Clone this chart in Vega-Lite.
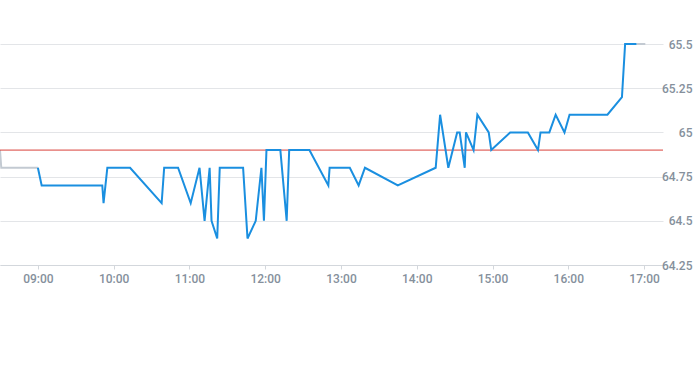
{
  "width": 663,
  "height": 221,
  "autosize": "none",
  "padding": {"left": 0, "top": 44, "right": 30, "bottom": 100},
  "config": {
    "view": {"stroke": null},
    "axis": {"labelFont": "Roboto", "labelColor": "#85909c", "labelFontSize": 12, "labelFontWeight": 500}
  },
  "data": {
    "values": [
      {"s": "pre", "t": "2024-01-02 08:30", "p": 64.9},
      {"s": "pre", "t": "2024-01-02 08:31", "p": 64.8},
      {"s": "pre", "t": "2024-01-02 09:00", "p": 64.8},
      {"s": "main", "t": "2024-01-02 09:00", "p": 64.8},
      {"s": "main", "t": "2024-01-02 09:03", "p": 64.7},
      {"s": "main", "t": "2024-01-02 09:51", "p": 64.7},
      {"s": "main", "t": "2024-01-02 09:52", "p": 64.6},
      {"s": "main", "t": "2024-01-02 09:55", "p": 64.8},
      {"s": "main", "t": "2024-01-02 10:13", "p": 64.8},
      {"s": "main", "t": "2024-01-02 10:38", "p": 64.6},
      {"s": "main", "t": "2024-01-02 10:40", "p": 64.8},
      {"s": "main", "t": "2024-01-02 10:51", "p": 64.8},
      {"s": "main", "t": "2024-01-02 11:01", "p": 64.6},
      {"s": "main", "t": "2024-01-02 11:08", "p": 64.8},
      {"s": "main", "t": "2024-01-02 11:12", "p": 64.5},
      {"s": "main", "t": "2024-01-02 11:16", "p": 64.8},
      {"s": "main", "t": "2024-01-02 11:17:30", "p": 64.5},
      {"s": "main", "t": "2024-01-02 11:22", "p": 64.4},
      {"s": "main", "t": "2024-01-02 11:24", "p": 64.8},
      {"s": "main", "t": "2024-01-02 11:42:30", "p": 64.8},
      {"s": "main", "t": "2024-01-02 11:46", "p": 64.4},
      {"s": "main", "t": "2024-01-02 11:52:30", "p": 64.5},
      {"s": "main", "t": "2024-01-02 11:57", "p": 64.8},
      {"s": "main", "t": "2024-01-02 11:59", "p": 64.5},
      {"s": "main", "t": "2024-01-02 12:01", "p": 64.9},
      {"s": "main", "t": "2024-01-02 12:12", "p": 64.9},
      {"s": "main", "t": "2024-01-02 12:17", "p": 64.5},
      {"s": "main", "t": "2024-01-02 12:19", "p": 64.9},
      {"s": "main", "t": "2024-01-02 12:35", "p": 64.9},
      {"s": "main", "t": "2024-01-02 12:50", "p": 64.7},
      {"s": "main", "t": "2024-01-02 12:51", "p": 64.8},
      {"s": "main", "t": "2024-01-02 13:07", "p": 64.8},
      {"s": "main", "t": "2024-01-02 13:14", "p": 64.7},
      {"s": "main", "t": "2024-01-02 13:19", "p": 64.8},
      {"s": "main", "t": "2024-01-02 13:45", "p": 64.7},
      {"s": "main", "t": "2024-01-02 14:15", "p": 64.8},
      {"s": "main", "t": "2024-01-02 14:18:30", "p": 65.1},
      {"s": "main", "t": "2024-01-02 14:25", "p": 64.8},
      {"s": "main", "t": "2024-01-02 14:32", "p": 65.0},
      {"s": "main", "t": "2024-01-02 14:34", "p": 65.0},
      {"s": "main", "t": "2024-01-02 14:38", "p": 64.8},
      {"s": "main", "t": "2024-01-02 14:39", "p": 65.0},
      {"s": "main", "t": "2024-01-02 14:45", "p": 64.9},
      {"s": "main", "t": "2024-01-02 14:48", "p": 65.1},
      {"s": "main", "t": "2024-01-02 14:57", "p": 65.0},
      {"s": "main", "t": "2024-01-02 14:59", "p": 64.9},
      {"s": "main", "t": "2024-01-02 15:14", "p": 65.0},
      {"s": "main", "t": "2024-01-02 15:28", "p": 65.0},
      {"s": "main", "t": "2024-01-02 15:36", "p": 64.9},
      {"s": "main", "t": "2024-01-02 15:38", "p": 65.0},
      {"s": "main", "t": "2024-01-02 15:45", "p": 65.0},
      {"s": "main", "t": "2024-01-02 15:50", "p": 65.1},
      {"s": "main", "t": "2024-01-02 15:57", "p": 65.0},
      {"s": "main", "t": "2024-01-02 16:01", "p": 65.1},
      {"s": "main", "t": "2024-01-02 16:31", "p": 65.1},
      {"s": "main", "t": "2024-01-02 16:42:30", "p": 65.2},
      {"s": "main", "t": "2024-01-02 16:45", "p": 65.5},
      {"s": "main", "t": "2024-01-02 16:54", "p": 65.5},
      {"s": "post", "t": "2024-01-02 16:54", "p": 65.5},
      {"s": "post", "t": "2024-01-02 17:01", "p": 65.5}
    ]
  },
  "layer": [
    {
      "transform": [{"filter": "datum.s !== 'main'"}],
      "mark": {"type": "line", "color": "#c3cad2", "strokeWidth": 2},
      "encoding": {
        "x": {
          "field": "t",
          "type": "temporal",
          "scale": {"domain": [
            {"year": 2024, "month": 1, "date": 2, "hours": 8, "minutes": 30},
            {"year": 2024, "month": 1, "date": 2, "hours": 17, "minutes": 15}
          ]},
          "axis": {
            "title": null,
            "format": "%H:%M",
            "tickCount": "hour",
            "grid": false,
            "domainColor": "#d3d7dc",
            "tickColor": "#d3d7dc",
            "tickSize": 4,
            "labelPadding": 4
          }
        },
        "y": {
          "field": "p",
          "type": "quantitative",
          "scale": {"domain": [64.25, 65.5], "zero": false, "nice": false},
          "axis": {
            "orient": "right",
            "title": null,
            "values": [64.25, 64.5, 64.75, 65, 65.25, 65.5],
            "format": ".4~g",
            "grid": true,
            "gridColor": "#e3e5e8",
            "domain": false,
            "ticks": false,
            "labelAlign": "right",
            "labelPadding": 29
          }
        },
        "detail": {"field": "s", "type": "nominal"}
      }
    },
    {
      "data": {"values": [{"r": 64.9}]},
      "mark": {"type": "rule", "color": "#d9413a", "strokeWidth": 1},
      "encoding": {"y": {"field": "r", "type": "quantitative"}}
    },
    {
      "transform": [{"filter": "datum.s === 'main'"}],
      "mark": {"type": "line", "color": "#1a8fe0", "strokeWidth": 2},
      "encoding": {
        "x": {"field": "t", "type": "temporal"},
        "y": {"field": "p", "type": "quantitative"}
      }
    }
  ]
}
